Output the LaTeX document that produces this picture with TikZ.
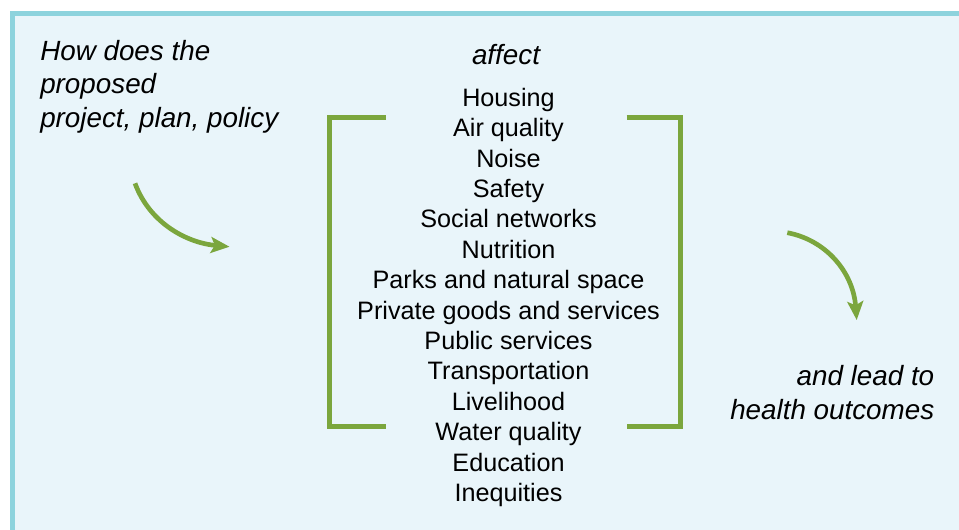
\documentclass[tikz,border=0pt]{standalone}
\usepackage{fontspec}
\setmainfont{Liberation Sans}
\usetikzlibrary{arrows.meta}
\definecolor{panelblue}{HTML}{E9F5FA}
\definecolor{panelrim}{HTML}{8DD3DD}
\definecolor{leafgreen}{HTML}{7BA63D}
\tikzset{
	askfont/.style={font=\fontsize{20.85}{25.3}\selectfont\itshape, inner sep=0pt},
	listfont/.style={font=\fontsize{18.9}{22.8}\selectfont, inner sep=0pt},
	bracketline/.style={line width=3.75pt, color=leafgreen, line join=miter},
	bendarrow/.style={line width=3.5pt, color=leafgreen, -{Stealth[length=14pt, width=12pt, inset=3pt]}}
}

\begin{document}
\begin{tikzpicture}[x=0.75pt, y=-0.75pt]
		%%%%% START %%%%%
		
		\useasboundingbox (0, 0) rectangle (959, 529);
		\fill[white] (0, 0) rectangle (959, 529);
		\clip (0, 0) rectangle (959, 529);
		\draw[line width=3.75pt, color=panelrim, fill=panelblue] (12.5, 13.3) rectangle (985, 560);
		
		\node[askfont, anchor=north west, align=left] (question) at (40, 39.7) {How does the\\proposed\\project, plan, policy};
		\node[askfont, anchor=base] (affect) at (506, 64.3) {affect};
		
		\node[listfont, anchor=north, align=center] (factors) at (508.5, 87.8) {Housing\\Air quality\\Noise\\Safety\\Social networks\\Nutrition\\Parks and natural space\\Private goods and services\\Public services\\Transportation\\Livelihood\\Water quality\\Education\\Inequities};
		
		\node[askfont, anchor=north east, align=right] (outcome) at (934.5, 365) {and lead to\\health outcomes};
		
		% brackets round the list
		\draw[bracketline] (385.7, 117.5) -- (329.5, 117.5) -- (329.5, 426.7) -- (385.7, 426.7);
		\draw[bracketline] (626.7, 117.5) -- (680, 117.5) -- (680, 426.7) -- (626.7, 426.7);
		
		% arrows
		\draw[bendarrow] (135, 183.3) .. controls (150, 224) and (188, 243) .. (229.5, 246.7);
		\draw[bendarrow] (787.3, 232.7) .. controls (826, 240) and (853, 272) .. (856.7, 320);
		
		%%%%% END %%%%%
	\end{tikzpicture}
\end{document}
